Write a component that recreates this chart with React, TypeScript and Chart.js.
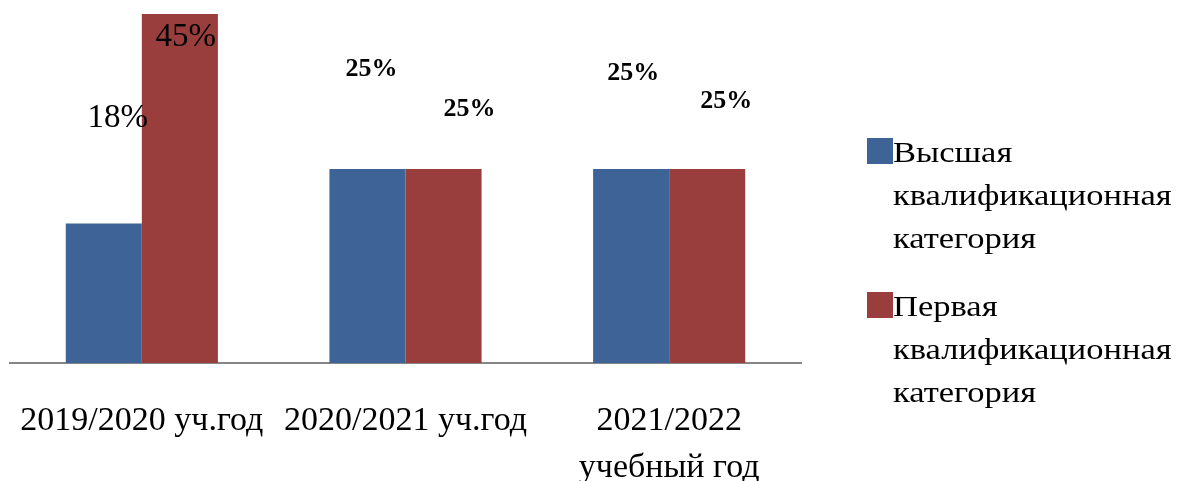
import React, { useEffect, useRef } from "react";
import { Chart, registerables } from "chart.js";

Chart.register(...registerables);

const categories: (string | string[])[] = [
  "2019/2020 уч.год",
  "2020/2021 уч.год",
  ["2021/2022", "учебный год"],
];
const seriesNames: string[][] = [
  ["Высшая", "квалификационная", "категория"],
  ["Первая", "квалификационная", "категория"],
];
const highest: number[] = [18, 25, 25];
const first: number[] = [45, 25, 25];

const COLORS = ["#3E6497", "#993D3D"];
const SERIF = '"Liberation Serif", "Times New Roman", serif';

// label placement offsets (px) relative to bar top-center, and style, per [dataset][index]
const labelOffsets = [
  [[14, -105], [4, -100], [2, -96]],
  [[6, 23], [26, -60], [19, -68]],
];
const labelBold = [
  [false, true, true],
  [false, true, true],
];

const dataLabelPlugin = {
  id: "customLabels",
  afterDatasetsDraw(chart: any) {
    const ctx = chart.ctx;
    ctx.save();
    ctx.textAlign = "center";
    ctx.textBaseline = "middle";
    ctx.fillStyle = "#000";
    chart.data.datasets.forEach((ds: any, di: number) => {
      const meta = chart.getDatasetMeta(di);
      meta.data.forEach((bar: any, i: number) => {
        const [dx, dy] = labelOffsets[di][i];
        const bold = labelBold[di][i];
        ctx.font = bold ? `bold 26px ${SERIF}` : `33px ${SERIF}`;
        ctx.fillText(`${ds.data[i]}%`, bar.x + dx, bar.y + dy);
      });
    });
    ctx.restore();
  },
};

const legendPlugin = {
  id: "customLegend",
  afterDraw(chart: any) {
    const ctx = chart.ctx;
    ctx.save();
    const x0 = chart.chartArea.right + 66;
    let y = 138;
    ctx.textAlign = "left";
    ctx.textBaseline = "alphabetic";
    ctx.font = `29px ${SERIF}`;
    seriesNames.forEach((lines, si) => {
      ctx.fillStyle = COLORS[si];
      ctx.fillRect(x0, y, 26, 26);
      ctx.fillStyle = "#000";
      lines.forEach((ln, li) => {
        ctx.save();
        ctx.translate(x0 + 26, y + 24 + li * 43);
        ctx.scale(1.19, 1);
        ctx.fillText(ln, 0, 0);
        ctx.restore();
      });
      y += 154;
    });
    ctx.restore();
  },
};

export default function App() {
  const ref = useRef<HTMLCanvasElement | null>(null);
  useEffect(() => {
    if (!ref.current) return;
    const chart = new Chart(ref.current, {
      type: "bar",
      data: {
        labels: categories,
        datasets: [
          {
            label: seriesNames[0].join(" "),
            data: highest,
            backgroundColor: COLORS[0],
            categoryPercentage: 0.577,
            barPercentage: 1,
          },
          {
            label: seriesNames[1].join(" "),
            data: first,
            backgroundColor: COLORS[1],
            categoryPercentage: 0.577,
            barPercentage: 1,
          },
        ],
      },
      options: {
        animation: false,
        responsive: false,
        layout: { padding: { left: 10, right: 377, top: 14, bottom: 0 } },
        plugins: { legend: { display: false }, tooltip: { enabled: false } },
        scales: {
          y: { display: false, min: 0, max: 45 },
          x: {
            grid: { display: false, drawTicks: false },
            border: { display: true, color: "#868686", width: 2 },
            ticks: {
              color: "#000",
              font: { family: SERIF, size: 34, lineHeight: 1.38 },
              padding: 35,
              maxRotation: 0,
              autoSkip: false,
            },
            afterFit: (scale: any) => {
              scale.height = 118;
              scale.paddingLeft = 0;
              scale.paddingRight = 0;
            },
          },
        },
      },
      plugins: [dataLabelPlugin, legendPlugin],
    });
    return () => chart.destroy();
  }, []);
  return (
    <div style={{ position: "fixed", left: 0, top: 0, width: 1178, height: 481, background: "#fff" }}>
      <canvas ref={ref} width={1178} height={481} />
    </div>
  );
}
